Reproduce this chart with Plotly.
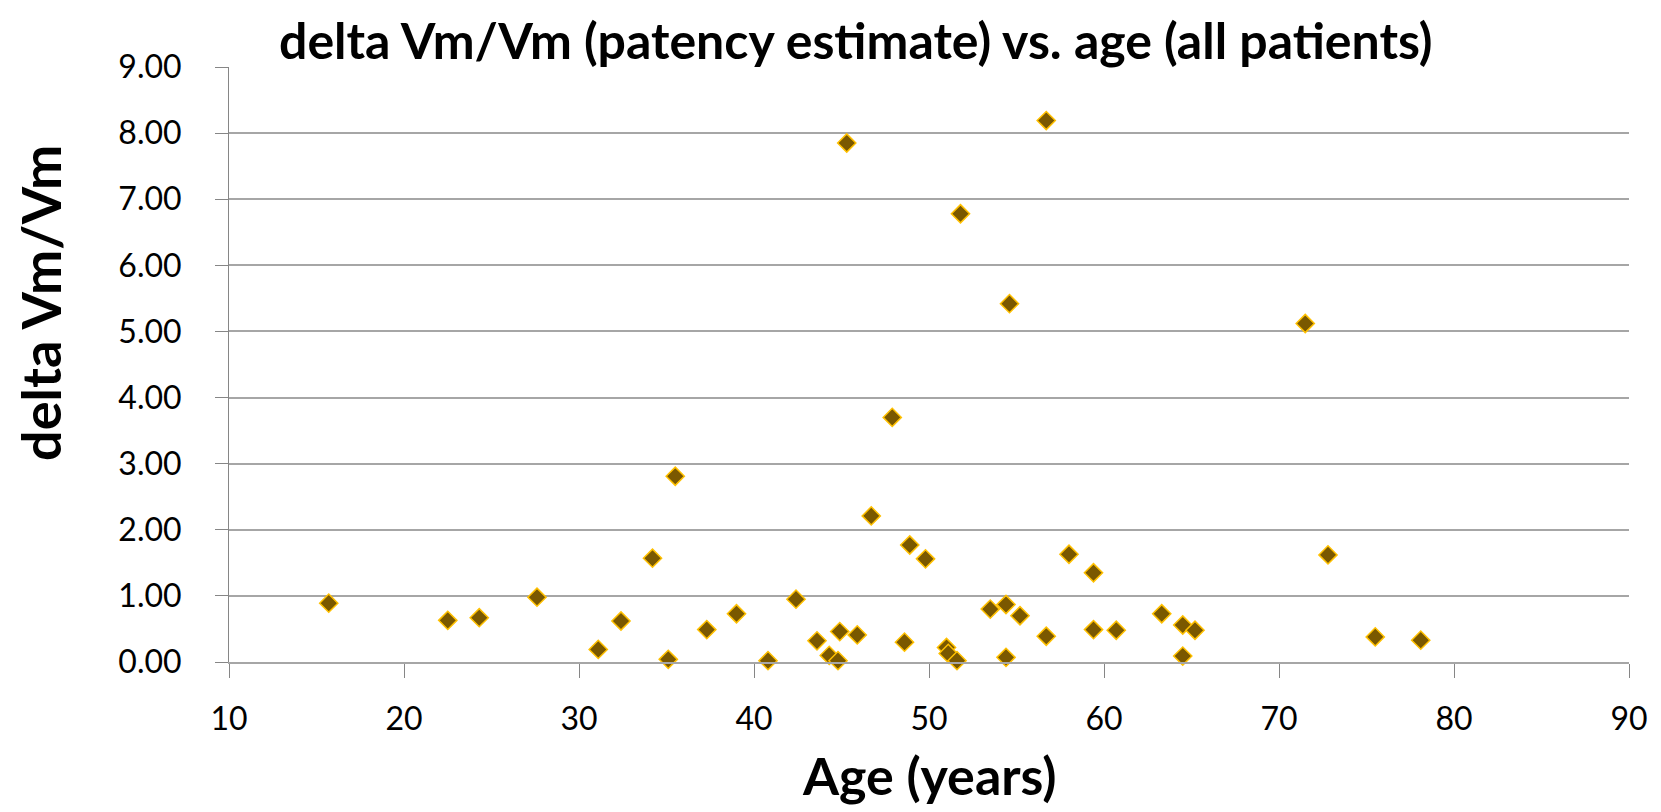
import plotly.graph_objects as go

ages = [15.7, 22.5, 24.3, 27.6, 31.1, 32.4, 34.2, 35.1, 35.5, 37.3,
        39.0, 40.8, 42.4, 43.6, 44.3, 44.8, 44.9, 45.3, 45.9, 46.7,
        47.9, 48.6, 48.9, 49.8, 51.0, 51.1, 51.6, 51.8, 53.5, 54.4,
        54.4, 54.6, 55.2, 56.7, 56.7, 58.0, 59.4, 59.4, 60.7, 63.3,
        64.5, 64.5, 65.2, 71.5, 72.8, 75.5, 78.1]
values = [0.89, 0.63, 0.67, 0.98, 0.19, 0.62, 1.57, 0.04, 2.81, 0.49,
          0.73, 0.02, 0.95, 0.32, 0.10, 0.02, 0.46, 7.85, 0.41, 2.21,
          3.70, 0.30, 1.77, 1.56, 0.22, 0.13, 0.02, 6.78, 0.80, 0.87,
          0.07, 5.42, 0.70, 0.39, 8.19, 1.63, 1.35, 0.49, 0.48, 0.73,
          0.56, 0.09, 0.48, 5.12, 1.62, 0.38, 0.33]

title_text = "delta Vm/Vm (patency estimate) vs. age (all patients)"
x_title = "Age (years)"
y_title = "delta Vm/Vm"
x_ticks = [10, 20, 30, 40, 50, 60, 70, 80, 90]
y_ticks = [0, 1, 2, 3, 4, 5, 6, 7, 8, 9]

GRID = "#A6A6A6"
AXIS = "#868686"
FONT = "Lato"

# the page body adds an 8px offset; plot area spans x 221..1621, y 59..654 in figure pixels
L, T, PW, PH = 221, 59, 1400, 595

fig = go.Figure(go.Scatter(
    x=ages, y=values, mode="markers", cliponaxis=False,
    marker=dict(symbol="diamond", size=14, color="#7A5800",
                line=dict(color="#FFC000", width=1.5)),
    showlegend=False,
))

fig.update_layout(
    width=1653, height=804,
    margin=dict(l=L, r=32, t=T, b=804 - T - PH),
    paper_bgcolor="white", plot_bgcolor="white",
    font=dict(family=FONT, color="black"),
    xaxis=dict(range=[10, 90], tickvals=x_ticks, showgrid=False, zeroline=False,
               showline=True, linecolor=GRID, linewidth=2,
               ticks="outside", ticklen=14, tickcolor=AXIS, tickwidth=1,
               ticklabelstandoff=14,
               tickfont=dict(family=FONT, size=32, color="black")),
    yaxis=dict(range=[0, 9], tickvals=y_ticks, tickformat=".2f",
               showgrid=True, gridcolor=GRID, gridwidth=1.5, zeroline=False,
               showline=True, linecolor=AXIS, linewidth=1,
               ticks="outside", ticklen=13, tickcolor=AXIS, tickwidth=1,
               ticklabelstandoff=27,
               tickfont=dict(family=FONT, size=32, color="black")),
    annotations=[
        dict(text="<b>" + title_text + "</b>", xref="paper", yref="paper",
             x=(848 - L) / PW, y=1 + T / PH, xanchor="center", yanchor="top",
             showarrow=False, font=dict(family=FONT, size=50, color="black")),
        dict(text="<b>" + x_title + "</b>", xref="paper", yref="paper",
             x=0.5, y=(T + PH - 767) / PH, xanchor="center", yanchor="middle",
             showarrow=False, font=dict(family=FONT, size=52, color="black")),
        dict(text="<b>" + y_title + "</b>", xref="paper", yref="paper",
             x=(32 - L) / PW, y=(T + PH - 295) / PH, xanchor="center", yanchor="middle",
             textangle=-90, showarrow=False, font=dict(family=FONT, size=54, color="black")),
    ],
)

fig.write_html("out.html")
